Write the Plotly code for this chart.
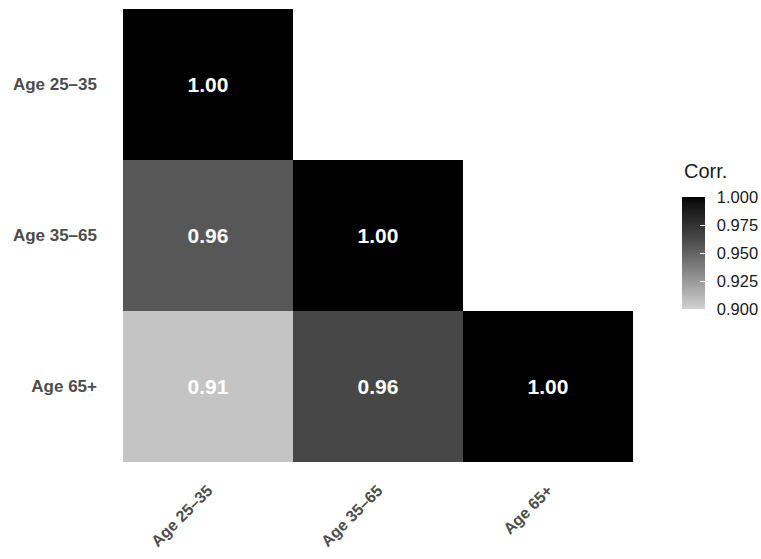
import plotly.graph_objects as go

# ---- data ----
x_labels = ["Age 25–35", "Age 35–65", "Age 65+"]
y_labels = ["Age 25–35", "Age 35–65", "Age 65+"]
row_25_35 = [1.00, None, None]
row_35_65 = [0.956, 1.00, None]
row_65_plus = [0.906, 0.964, 1.00]
cbar_ticks = [0.900, 0.925, 0.950, 0.975, 1.000]
legend_title = "Corr."


# ---- Lab-interpolated grey scale (grey80 -> black) ----
def lab_grey(L):
    fy = (L + 16) / 116
    Y = fy ** 3 if fy > 6 / 29 else (fy - 16 / 116) * 3 * (6 / 29) ** 2
    c = 12.92 * Y if Y <= 0.0031308 else 1.055 * Y ** (1 / 2.4) - 0.055
    v = max(0, min(255, round(c * 255)))
    return f"rgb({v},{v},{v})"


L_low = 84.2
n = 20
colorscale = [[i / n, lab_grey(L_low * (1 - i / n))] for i in range(n + 1)]

z = [row_25_35, row_35_65, row_65_plus]

font_family = "Liberation Sans, Arial, Helvetica, sans-serif"

cb_x = 1.0955
cb_y = 0.3377
cb_len = 112

fig = go.Figure()
fig.add_trace(
    go.Heatmap(
        z=z,
        x=x_labels,
        y=y_labels,
        zmin=0.9,
        zmax=1.0,
        colorscale=colorscale,
        texttemplate="%{z:.2f}",
        textfont=dict(color="white", size=21, family=font_family, weight="bold"),
        hoverongaps=False,
        colorbar=dict(
            tickvals=cbar_ticks,
            tickformat=".3f",
            ticks="outside",
            ticklen=9,
            tickcolor="rgba(0,0,0,0)",
            tickfont=dict(size=16.5, color="#1a1a1a", family=font_family),
            outlinewidth=0,
            thickness=23,
            lenmode="pixels",
            len=cb_len,
            x=cb_x,
            xanchor="left",
            xpad=0,
            y=cb_y,
            yanchor="bottom",
            ypad=0,
        ),
    )
)
# overlay colorbar providing the white inside tick marks
fig.add_trace(
    go.Heatmap(
        z=z,
        x=x_labels,
        y=y_labels,
        zmin=0.9,
        zmax=1.0,
        colorscale=colorscale,
        opacity=0,
        hoverinfo="skip",
        colorbar=dict(
            tickvals=cbar_ticks,
            ticks="inside",
            ticklen=5,
            tickcolor="white",
            tickwidth=1,
            showticklabels=False,
            outlinewidth=0,
            thickness=23,
            lenmode="pixels",
            len=cb_len,
            x=cb_x,
            xanchor="left",
            xpad=0,
            y=cb_y,
            yanchor="bottom",
            ypad=0,
        ),
    )
)

fig.add_annotation(
    text=legend_title,
    xref="paper",
    yref="paper",
    x=cb_x,
    y=0.6424,
    xanchor="left",
    yanchor="middle",
    showarrow=False,
    font=dict(size=20, color="#1a1a1a", family=font_family),
)

fig.update_layout(
    width=761,
    height=559,
    margin=dict(l=123, r=128, t=9, b=97, autoexpand=False),
    paper_bgcolor="white",
    plot_bgcolor="white",
    font=dict(family=font_family),
)
fig.update_xaxes(
    showgrid=False,
    zeroline=False,
    showline=False,
    tickangle=-45,
    tickfont=dict(size=16, color="#4d4d4d", family=font_family, weight="bold"),
    ticklabelstandoff=15,
)
fig.update_yaxes(
    showgrid=False,
    zeroline=False,
    showline=False,
    autorange="reversed",
    tickfont=dict(size=17, color="#4d4d4d", family=font_family, weight="bold"),
    ticklabelstandoff=25,
)

fig.write_html("out.html")
